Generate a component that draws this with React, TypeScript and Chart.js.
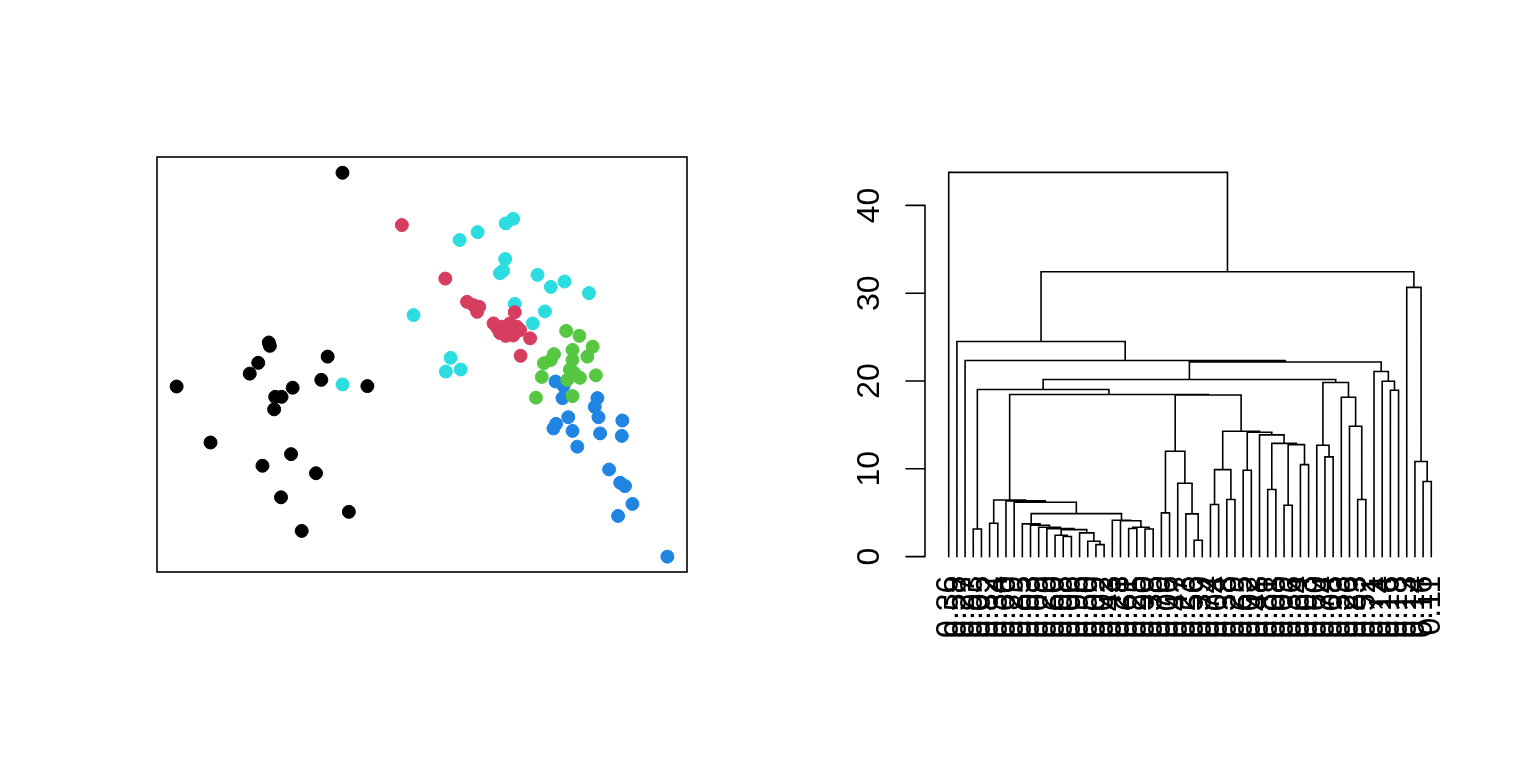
import React, { useEffect, useRef } from "react";
import { Chart, registerables } from "chart.js";
Chart.register(...registerables);

const FONT = '"Liberation Sans", Arial, Helvetica, sans-serif';

// ---- Scatter (left panel) ----
const blackX = [35.0, 21.1, 21.3, 19.1, 17.5, 32.2, 3.7, 31.0, 39.7, 25.6, 22.3, 23.5, 22.1, 10.1, 25.3, 19.9, 30.0, 23.4, 36.2, 27.3];
const blackY = [96.2, 55.3, 54.5, 50.4, 47.8, 51.9, 44.7, 46.3, 44.8, 44.4, 42.2, 42.2, 39.2, 31.2, 28.4, 25.6, 23.8, 18.0, 14.5, 9.9];

const redX = [46.2, 54.4, 58.5, 59.7, 60.8, 60.4, 67.5, 63.5, 64.2, 65.0, 66.6, 67.9, 68.5, 64.7, 65.8, 67.2, 70.4, 68.6];
const redY = [83.6, 70.7, 65.1, 64.3, 63.9, 62.7, 62.6, 59.9, 58.8, 59.1, 59.9, 59.1, 58.3, 57.6, 56.9, 57.0, 56.3, 52.1];

const cyanX = [48.4, 67.2, 65.8, 60.5, 57.1, 65.7, 64.7, 65.3, 71.8, 74.3, 76.9, 81.5, 67.5, 73.2, 70.9, 55.4, 54.5, 57.3, 35.0];
const cyanY = [61.9, 85.1, 84.0, 81.9, 80.0, 75.4, 72.0, 72.6, 71.6, 68.7, 70.0, 67.2, 64.6, 62.8, 59.9, 51.6, 48.3, 48.8, 45.2];

const greenX = [77.2, 79.7, 82.2, 81.2, 78.4, 74.9, 73.0, 74.3, 78.4, 77.9, 78.7, 79.8, 72.6, 82.8, 78.4, 71.5, 77.4];
const greenY = [58.1, 56.9, 54.3, 51.9, 53.5, 52.5, 50.3, 51.1, 51.1, 48.8, 48.0, 46.8, 47.0, 47.4, 42.4, 42.0, 46.3];

const blueX = [75.2, 76.7, 76.5, 83.1, 82.6, 83.3, 87.8, 87.7, 83.6, 77.6, 75.3, 74.8, 78.4, 79.3, 85.3, 87.4, 88.3, 89.7, 87.0, 96.3];
const blueY = [45.9, 44.8, 41.9, 41.9, 39.8, 37.3, 36.5, 32.8, 33.4, 37.3, 35.7, 34.6, 34.0, 30.2, 24.7, 21.5, 20.7, 16.4, 13.5, 3.7];

// ---- Dendrogram (right panel): hclust-style merges, negative = leaf -(i+1) ----
const mergeLeft = [
  -4, -6, -19, -18, -17, -15, -14, 7, -13, -12,
  -11, -10, -23, -25, 13, -22, -21, 12, -9, -8,
  2, -27, -31, -30, -29, 22, -33, -35, 27, -37,
  -40, -42, -44, 32, 31, -39, 30, 29, 26, 21,
  1, -47, -46, -51, -50, -49, 43, 41, -55, -54,
  -53, 48, -3, -2, -59, -58, -57, 54, -1,
];
const mergeRight = [
  -5, -7, -20, 3, 4, -16, 6, 5, 8, 9,
  10, 11, -24, -26, 14, 15, 16, 17, 18, 19,
  20, -28, -32, 23, 24, 25, -34, -36, 28, -38,
  -41, -43, -45, 33, 34, 35, 36, 37, 38, 39,
  40, -48, 42, -52, 44, 45, 46, 47, -56, 49,
  50, 51, 52, 53, -60, 55, 56, 57, 58,
];
const mergeHeight = [
  3.15, 3.8, 1.37, 1.75, 2.7, 2.3, 2.43, 3.08, 3.19, 3.34,
  3.57, 3.73, 3.2, 3.15, 3.35, 4.08, 4.14, 4.9, 6.2, 6.35,
  6.45, 4.98, 1.86, 4.87, 8.35, 12.0, 5.93, 6.5, 9.91, 9.83,
  7.64, 5.85, 10.48, 12.76, 12.9, 13.87, 14.17, 14.28, 18.4, 18.46,
  19.03, 11.36, 12.68, 6.5, 14.85, 18.15, 19.83, 20.17, 18.95, 19.98,
  21.08, 22.17, 22.34, 24.5, 8.55, 10.83, 30.66, 32.45, 43.76,
];

const leafLabels = [
  "0.36", "0.58", "0.27", "0.93", "0.05", "0.82", "0.34", "0.60", "0.29", "0.85",
  "0.03", "0.09", "0.20", "0.60", "0.08", "0.06", "0.96", "0.50", "0.09", "0.02",
  "0.43", "0.28", "0.61", "0.25", "0.90", "0.38", "0.70", "0.06", "0.47", "0.23",
  "0.56", "0.39", "0.74", "0.04", "0.38", "0.29", "0.65", "0.02", "0.48", "0.81",
  "0.08", "0.09", "0.36", "0.64", "0.03", "0.60", "0.74", "0.08", "0.33", "0.26",
  "0.83", "0.52", "0.71", "0.14", "0.16", "0.18", "0.13", "0.14", "0.16", "0.11",
];

const yTicks = [0, 10, 20, 30, 40];

function buildDendrogram() {
  const nodeX: number[] = [];
  const nodeH: number[] = [];
  const pos = (r: number) => (r < 0 ? -r - 1 : nodeX[r - 1]);
  const hgt = (r: number) => (r < 0 ? 0 : nodeH[r - 1]);
  const pts: { x: number; y: number | null }[] = [];
  for (let k = 0; k < mergeLeft.length; k++) {
    const l = mergeLeft[k];
    const r = mergeRight[k];
    const h = mergeHeight[k];
    const xl = pos(l);
    const xr = pos(r);
    nodeX.push((xl + xr) / 2);
    nodeH.push(h);
    pts.push({ x: xl, y: hgt(l) }, { x: xl, y: h }, { x: xr, y: h }, { x: xr, y: hgt(r) }, { x: xr, y: null });
  }
  return pts;
}

const PAD = { left: 157, right: 81, top: 157, bottom: 196 };

const boxPlugin = {
  id: "boxPlugin",
  afterDraw(chart: any) {
    const { ctx, chartArea: a } = chart;
    ctx.save();
    ctx.strokeStyle = "#000";
    ctx.lineWidth = 1.6;
    ctx.strokeRect(a.left, a.top, a.right - a.left, a.bottom - a.top);
    ctx.restore();
  },
};

const axisPlugin = {
  id: "axisPlugin",
  afterDraw(chart: any) {
    const { ctx, chartArea: a, scales } = chart;
    const ys = scales.y;
    const xs = scales.x;
    const x0 = a.left;
    ctx.save();
    ctx.strokeStyle = "#000";
    ctx.lineWidth = 1.6;
    ctx.lineCap = "round";
    ctx.beginPath();
    ctx.moveTo(x0, ys.getPixelForValue(yTicks[0]));
    ctx.lineTo(x0, ys.getPixelForValue(yTicks[yTicks.length - 1]));
    for (const t of yTicks) {
      const y = ys.getPixelForValue(t);
      ctx.moveTo(x0, y);
      ctx.lineTo(x0 - 19, y);
    }
    ctx.stroke();
    ctx.fillStyle = "#000";
    ctx.font = `32px ${FONT}`;
    ctx.textAlign = "center";
    ctx.textBaseline = "alphabetic";
    for (const t of yTicks) {
      const y = ys.getPixelForValue(t);
      ctx.save();
      ctx.translate(x0 - 46, y);
      ctx.rotate(-Math.PI / 2);
      ctx.fillText(String(t), 0, 0);
      ctx.restore();
    }
    ctx.font = `32px ${FONT}`;
    ctx.textAlign = "right";
    ctx.textBaseline = "middle";
    const yl = ys.getPixelForValue(0) + 19;
    leafLabels.forEach((lab, i) => {
      const x = xs.getPixelForValue(i);
      ctx.save();
      ctx.translate(x, yl);
      ctx.rotate(-Math.PI / 2);
      ctx.fillText(lab, 0, 0);
      ctx.restore();
    });
    ctx.restore();
  },
};

function pts(xs: number[], ys: number[]) {
  return xs.map((x, i) => ({ x, y: ys[i] }));
}

export default function App() {
  const leftRef = useRef<HTMLCanvasElement>(null);
  const rightRef = useRef<HTMLCanvasElement>(null);

  useEffect(() => {
    const mk = (data: any, color: string) => ({
      data,
      backgroundColor: color,
      borderColor: color,
      pointRadius: 6.5,
      pointBorderWidth: 1,
      pointHoverRadius: 6.5,
    });
    const c1 = new Chart(leftRef.current as HTMLCanvasElement, {
      type: "scatter",
      data: {
        datasets: [
          mk(pts(blackX, blackY), "#000000"),
          mk(pts(redX, redY), "#D63D5E"),
          mk(pts(cyanX, cyanY), "#2BDDE0"),
          mk(pts(greenX, greenY), "#55C740"),
          mk(pts(blueX, blueY), "#2084E2"),
        ],
      },
      options: {
        animation: false,
        responsive: false,
        events: [],
        layout: { padding: PAD },
        plugins: { legend: { display: false }, tooltip: { enabled: false } },
        scales: {
          x: { type: "linear", display: false, min: 0, max: 100 },
          y: { type: "linear", display: false, min: 0, max: 100 },
        },
      },
      plugins: [boxPlugin],
    } as any);

    const c2 = new Chart(rightRef.current as HTMLCanvasElement, {
      type: "scatter",
      data: {
        datasets: [
          {
            data: buildDendrogram(),
            showLine: true,
            spanGaps: false,
            borderColor: "#000",
            borderWidth: 1.6,
            pointRadius: 0,
            pointHoverRadius: 0,
            tension: 0,
            borderCapStyle: "round",
            borderJoinStyle: "miter",
          },
        ],
      },
      options: {
        animation: false,
        responsive: false,
        events: [],
        layout: { padding: PAD },
        plugins: { legend: { display: false }, tooltip: { enabled: false } },
        scales: {
          x: { type: "linear", display: false, min: -2.9, max: 61.9 },
          y: { type: "linear", display: false, min: -1.75, max: 45.51 },
        },
      },
      plugins: [axisPlugin],
    } as any);

    return () => {
      c1.destroy();
      c2.destroy();
    };
  }, []);

  return (
    <div style={{ position: "fixed", left: 0, top: 0, width: 1536, height: 768, background: "#fff" }}>
      <canvas ref={leftRef} width={768} height={768} style={{ position: "absolute", left: 0, top: 0, width: 768, height: 768 }} />
      <canvas ref={rightRef} width={768} height={768} style={{ position: "absolute", left: 768, top: 0, width: 768, height: 768 }} />
    </div>
  );
}
